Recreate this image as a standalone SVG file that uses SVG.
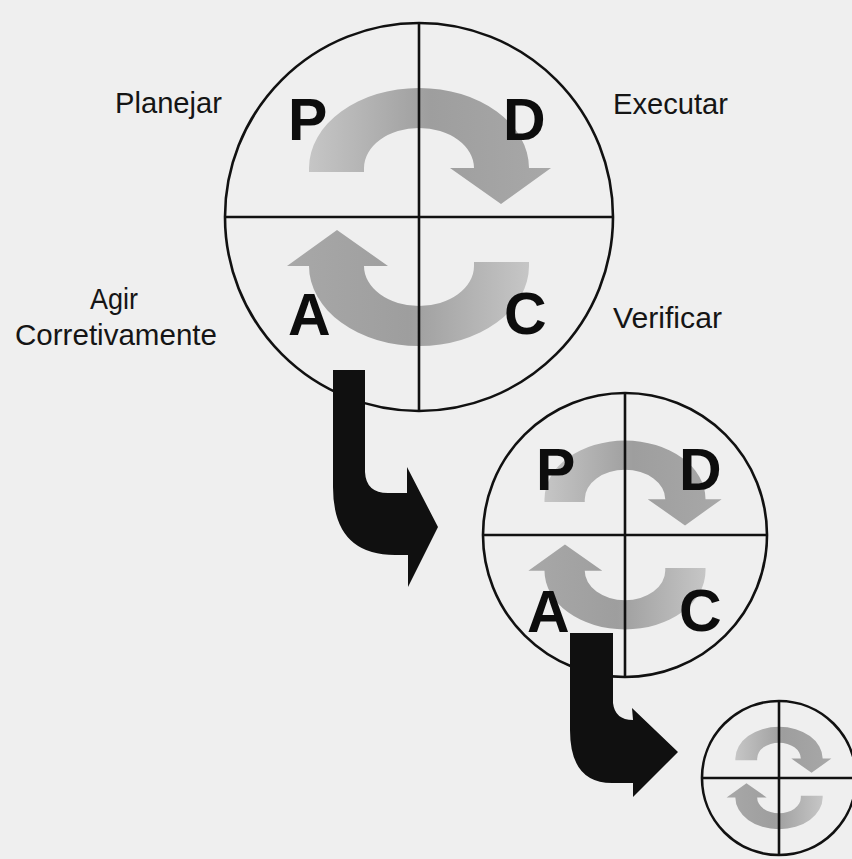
<svg xmlns="http://www.w3.org/2000/svg" width="852" height="859" viewBox="0 0 852 859" xmlns:xlink="http://www.w3.org/1999/xlink">
  <style>
    .ring { fill: none; stroke: #111; stroke-width: 2.6; }
    .axis { stroke: #111; stroke-width: 2.6; }
    .lbl { font-family: "Liberation Sans", Arial, sans-serif; font-size: 29px; fill: #151515; }
    .big { font-family: "Liberation Sans", Arial, sans-serif; font-weight: bold; font-size: 59px; fill: #0d0d0d; }
    .turn { fill: #101010; }
  </style>
  <defs>
    <linearGradient id="ga" x1="0" y1="0" x2="1" y2="0">
      <stop offset="0" stop-color="#c6c6c6"/>
      <stop offset="0.5" stop-color="#9e9e9e"/>
      <stop offset="1" stop-color="#a8a8a8"/>
    </linearGradient>
    <path id="arc" fill="url(#ga)" d="M -110 -45 L -110 -49 A 110 80 0 0 1 110 -49 L 132 -49 L 82 -13 L 31 -49 L 55 -49 A 55 40 0 0 0 -55 -49 L -55 -45 Z"/>
    <g id="cycle">
      <use xlink:href="#arc"/>
      <use xlink:href="#arc" transform="rotate(180)"/>
      <circle class="ring" r="194" vector-effect="non-scaling-stroke"/>
      <line class="axis" x1="0" y1="-194" x2="0" y2="194" vector-effect="non-scaling-stroke"/>
      <line class="axis" x1="-194" y1="0" x2="194" y2="0" vector-effect="non-scaling-stroke"/>
    </g>
  </defs>
  <rect width="852" height="859" fill="#efefef"/>

  <g id="cycle-1">
    <use xlink:href="#cycle" transform="translate(419 217)"/>
    <text class="big" x="288" y="140">P</text>
    <text class="big" x="503" y="140">D</text>
    <text class="big" x="288" y="335">A</text>
    <text class="big" x="504" y="334">C</text>
  </g>

  <g id="labels">
    <text class="lbl" x="115" y="113" textLength="107" lengthAdjust="spacingAndGlyphs">Planejar</text>
    <text class="lbl" x="613" y="114" textLength="115" lengthAdjust="spacingAndGlyphs">Executar</text>
    <text class="lbl" x="90" y="309" textLength="48" lengthAdjust="spacingAndGlyphs">Agir</text>
    <text class="lbl" x="15" y="345" textLength="202" lengthAdjust="spacingAndGlyphs">Corretivamente</text>
    <text class="lbl" x="613" y="328" textLength="109" lengthAdjust="spacingAndGlyphs">Verificar</text>
  </g>

  <g id="cycle-2">
    <use xlink:href="#cycle" transform="translate(625 535) scale(0.732)"/>
    <text class="big" x="536" y="490">P</text>
    <text class="big" x="679" y="490">D</text>
    <text class="big" x="527" y="632">A</text>
    <text class="big" x="679" y="631">C</text>
  </g>

  <g id="cycle-3">
    <use xlink:href="#cycle" transform="translate(779 778) scale(0.397)"/>
  </g>

  <g id="connectors">
    <path class="turn" d="M 333 370 L 365 370 L 365 472 Q 366 493 388 493 L 407 493 L 407 467 L 438 527 L 408 587 L 408 555 L 395 555 Q 333 555 333 487 Z"/>
    <path class="turn" d="M 570 633 L 613 633 L 613 703 Q 615 720 633 720 L 632 708 L 678 752 L 633 797 L 633 783 L 612 783 Q 570 783 570 730 Z"/>
  </g>
</svg>
